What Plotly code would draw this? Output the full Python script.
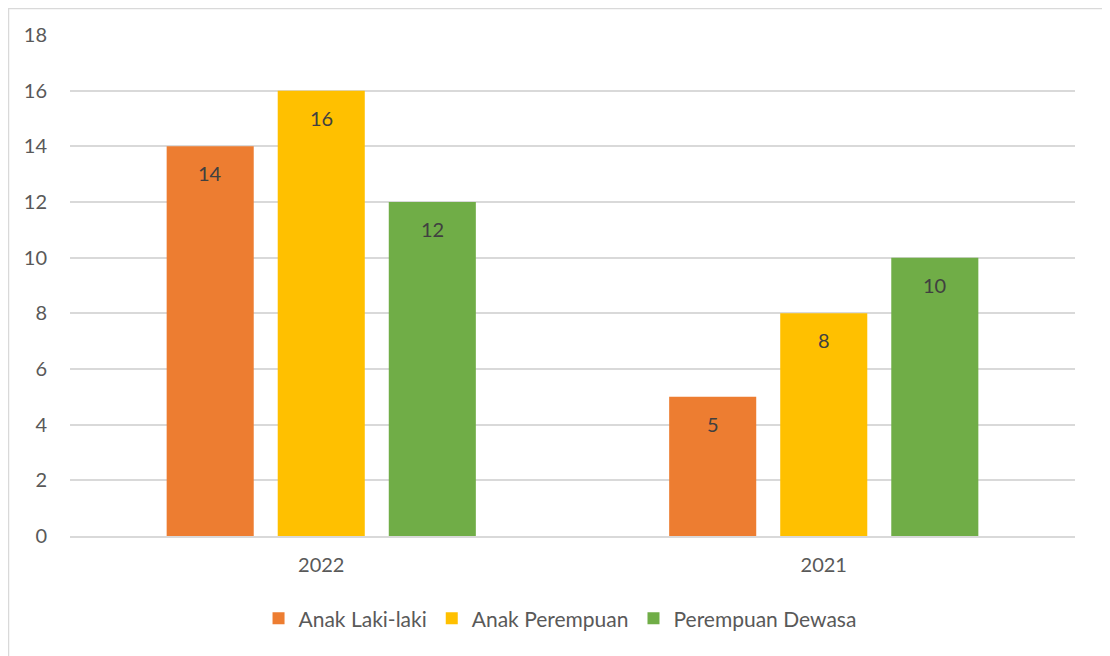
import plotly.graph_objects as go

categories = ["2022", "2021"]
series_names = ["Anak Laki-laki", "Anak Perempuan", "Perempuan Dewasa"]
anak_laki = [14, 5]
anak_perempuan = [16, 8]
perempuan_dewasa = [12, 10]
colors = ["#ED7D31", "#FFC000", "#70AD47"]
y_ticks = [0, 2, 4, 6, 8, 10, 12, 14, 16, 18]

series_values = [anak_laki, anak_perempuan, perempuan_dewasa]
FONT = "Lato, Calibri, sans-serif"

BARGAP = 0.337
fig = go.Figure()
for name, vals, col in zip(series_names, series_values, colors):
    fig.add_trace(go.Bar(name=name, x=categories, y=vals, marker=dict(color=col, line=dict(width=0))))

slot = (1 - BARGAP) / 3
annotations = []
for j, vals in enumerate(series_values):
    for i, v in enumerate(vals):
        annotations.append(dict(x=i + (j - 1) * slot, y=v, xref="x", yref="y", text=str(v),
                                showarrow=False, yshift=-27, yanchor="middle",
                                font=dict(family=FONT, size=20, color="#404040")))

# page body has an 8px margin; compensate so plot area lands at x 70-1075, y 35-536
fig.update_layout(
    barmode="group", bargap=BARGAP, bargroupgap=0.216,
    width=1102, height=648,
    margin=dict(l=62, r=35, t=27, b=120),
    paper_bgcolor="white", plot_bgcolor="white",
    font=dict(family=FONT, size=20, color="#595959"),
    showlegend=True,
    legend=dict(orientation="h", x=0.4876, xanchor="center", y=-0.165, yanchor="middle",
                font=dict(family=FONT, size=21, color="#595959"), itemwidth=30,
                traceorder="normal"),
    annotations=annotations,
    shapes=[dict(type="rect", xref="paper", yref="paper", x0=-0.0612, x1=1.0289, y0=-0.2435, y1=1.0529,
                 line=dict(color="#D9D9D9", width=1.5), fillcolor="rgba(0,0,0,0)", layer="below")],
)
fig.update_xaxes(type="category", showgrid=False, showline=True, linecolor="#D9D9D9", linewidth=1.5,
                 ticks="", tickfont=dict(size=20, color="#595959"), ticklabelstandoff=10)
fig.update_yaxes(range=[0, 18], tickvals=y_ticks, showgrid=True, gridcolor="#D9D9D9", gridwidth=1.5,
                 zeroline=False, showline=False, ticks="", tickfont=dict(size=20, color="#595959"),
                 ticklabelstandoff=22)

fig.write_html("out.html")
